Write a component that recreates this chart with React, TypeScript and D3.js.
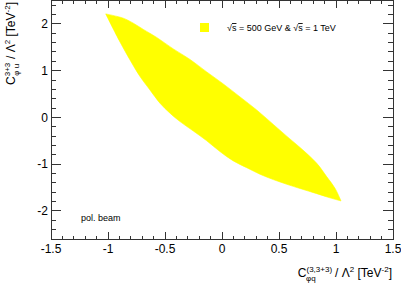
import React, { useEffect, useRef } from 'react';
import * as d3 from 'd3';

// upper and lower edge of the allowed region
const upperX = [-1.02, -0.866, -0.778, -0.69, -0.573, -0.427, -0.281, -0.134, 0.011, 0.158, 0.304, 0.45, 0.596, 0.684, 0.831, 0.918, 0.991, 1.044];
const upperY = [2.214, 2.122, 2.015, 1.882, 1.711, 1.465, 1.241, 0.973, 0.717, 0.439, 0.16, -0.15, -0.46, -0.642, -0.98, -1.266, -1.514, -1.786];
const lowerX = [-1.02, -0.895, -0.807, -0.719, -0.632, -0.544, -0.456, -0.368, -0.252, -0.134, -0.018, 0.099, 0.217, 0.333, 0.45, 0.568, 0.684, 0.831, 0.947, 1.044];
const lowerY = [2.214, 1.615, 1.23, 0.873, 0.588, 0.304, 0.09, -0.09, -0.29, -0.5, -0.73, -0.93, -1.075, -1.215, -1.33, -1.43, -1.52, -1.63, -1.72, -1.786];

const xTicks = [-1.5, -1, -0.5, 0, 0.5, 1, 1.5];
const yTicks = [-2, -1, 0, 1, 2];
const legendText = ' = 500 GeV & ';
const legendText2 = ' = 1 TeV';
const noteText = 'pol. beam';

const W = 401, H = 284;
const margin = { top: 0.5, right: 8, bottom: 45, left: 51 };
const FONT = '"Liberation Sans", Arial, Helvetica, sans-serif';

function draw(el: SVGSVGElement) {
  const svg = d3.select(el);
  svg.selectAll('*').remove();

  const x = d3.scaleLinear().domain([-1.5, 1.5]).range([margin.left, W - margin.right]);
  const y = d3.scaleLinear().domain([-2.6, 2.5]).range([H - margin.bottom, margin.top]);
  const [x0, x1] = x.range();
  const [y0, y1] = y.range();

  // region: upper edge left->right, lower edge right->left
  const up: [number, number][] = upperX.map((v, i) => [v, upperY[i]]);
  const lo: [number, number][] = lowerX.map((v, i) => [v, lowerY[i]]).reverse() as [number, number][];
  const line = d3.line<[number, number]>().x(d => x(d[0])).y(d => y(d[1])).curve(d3.curveCatmullRom);
  const d = line(up)! + (line(lo)!).replace(/^M/, 'L') + 'Z';
  svg.append('path')
    .attr('d', d)
    .attr('fill', '#ffff00')
    .attr('stroke', '#ffff00')
    .attr('stroke-width', 0.6);

  const axisColor = '#333';
  const g = svg.append('g').attr('stroke', axisColor).attr('stroke-width', 1).attr('shape-rendering', 'crispEdges');

  // frame
  g.append('rect')
    .attr('x', x0).attr('y', y1)
    .attr('width', x1 - x0).attr('height', y0 - y1)
    .attr('fill', 'none');

  // x ticks (bottom + top)
  const xMinor = d3.range(-15, 16).map(i => i / 10);
  xMinor.forEach(v => {
    const major = Math.abs(v * 2 - Math.round(v * 2)) < 1e-6;
    const len = major ? 7 : 3.5;
    g.append('line').attr('x1', x(v)).attr('x2', x(v)).attr('y1', y0).attr('y2', y0 - len);
    g.append('line').attr('x1', x(v)).attr('x2', x(v)).attr('y1', y1).attr('y2', y1 + len);
  });

  // y ticks (left + right)
  const yMinor = d3.range(-13, 13).map(i => i / 5);
  yMinor.forEach(v => {
    const major = Math.abs(v - Math.round(v)) < 1e-6;
    const len = major ? 10 : 5;
    g.append('line').attr('y1', y(v)).attr('y2', y(v)).attr('x1', x0).attr('x2', x0 + len);
    g.append('line').attr('y1', y(v)).attr('y2', y(v)).attr('x1', x1).attr('x2', x1 - len);
  });

  const txt = svg.append('g').attr('font-family', FONT).attr('fill', '#000');

  txt.selectAll('.xl').data(xTicks).join('text')
    .attr('x', d => x(d)).attr('y', y0 + 13.5)
    .attr('text-anchor', 'middle').attr('font-size', 12)
    .text(d => String(d));

  txt.selectAll('.yl').data(yTicks).join('text')
    .attr('x', x0 - 3).attr('y', d => y(d) + 4.3)
    .attr('text-anchor', 'end').attr('font-size', 12)
    .text(d => String(d));

  // x title
  const xt = txt.append('text')
    .attr('x', x1 - 1).attr('y', 277)
    .attr('text-anchor', 'end').attr('font-size', 12);
  xt.append('tspan').text('C');
  xt.append('tspan').attr('font-size', 8).attr('dy', -5).text('(3,3+3)');
  xt.append('tspan').attr('font-size', 8).attr('dx', -26).attr('dy', 9).text('φq');
  xt.append('tspan').attr('dx', 16).attr('dy', -4).text(' / Λ');
  xt.append('tspan').attr('font-size', 8).attr('dy', -5).text('2');
  xt.append('tspan').attr('dy', 5).text(' [TeV');
  xt.append('tspan').attr('font-size', 8).attr('dy', -5).text('-2');
  xt.append('tspan').attr('dy', 5).text(']');

  // y title
  const yt = txt.append('text')
    .attr('transform', 'translate(15,2) rotate(-90)')
    .attr('text-anchor', 'end').attr('font-size', 12);
  yt.append('tspan').text('C');
  yt.append('tspan').attr('font-size', 8).attr('dy', -5).text('3+3');
  yt.append('tspan').attr('font-size', 8).attr('dx', -13).attr('dy', 9).text('φ u');
  yt.append('tspan').attr('dx', 1.5).attr('dy', -4).text(' / Λ');
  yt.append('tspan').attr('font-size', 8).attr('dy', -5).text('2');
  yt.append('tspan').attr('dy', 5).text(' [TeV');
  yt.append('tspan').attr('font-size', 8).attr('dy', -5).text('-2');
  yt.append('tspan').attr('dy', 5).text(']');

  // legend
  svg.append('rect').attr('x', 200).attr('y', 23).attr('width', 9).attr('height', 9).attr('fill', '#ffff00');
  const lt = txt.append('text').attr('x', 227).attr('y', 31).attr('font-size', 9);
  lt.append('tspan').text('√');
  lt.append('tspan').attr('text-decoration', 'overline').text('s');
  lt.append('tspan').text(legendText + '√');
  lt.append('tspan').attr('text-decoration', 'overline').text('s');
  lt.append('tspan').text(legendText2);

  txt.append('text').attr('x', 81).attr('y', 221).attr('font-size', 9).text(noteText);
}

export default function App() {
  const ref = useRef<SVGSVGElement>(null);
  useEffect(() => {
    if (ref.current) draw(ref.current);
  }, []);
  return (
    <div style={{ position: 'absolute', left: 0, top: 0 }}>
      <svg ref={ref} width={W} height={H} style={{ display: 'block', background: '#fff' }} />
    </div>
  );
}
